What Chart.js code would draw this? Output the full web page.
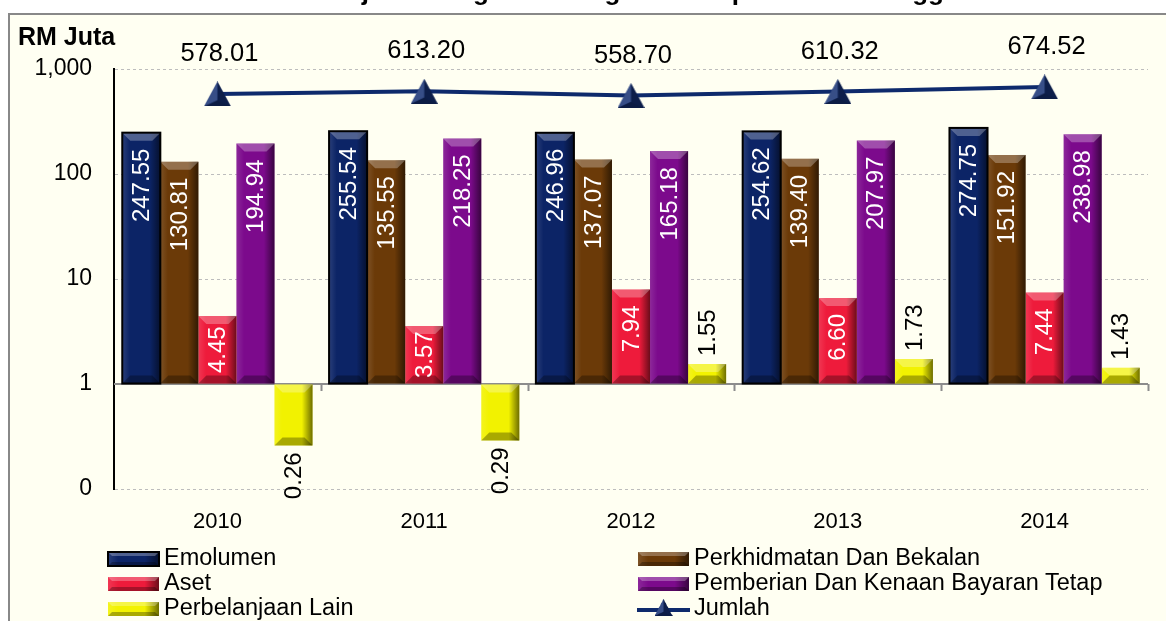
<!DOCTYPE html>
<html>
<head>
<meta charset="utf-8">
<script src="https://cdn.jsdelivr.net/npm/chart.js@4.4.1/dist/chart.umd.min.js"></script>
<style>
  html, body { margin: 0; padding: 0; background: #fff; }
  body { width: 1166px; height: 621px; overflow: hidden; position: relative; font-family: 'Liberation Sans', Arial, sans-serif; }
  #panel { position: absolute; left: 8px; top: 13px; right: 0; bottom: 0; background: #fffff2; border-left: 2px solid #888; border-top: 2px solid #888; }
  #wrap { position: absolute; left: 0; top: 0; width: 1166px; height: 621px; }
  #legend { position: absolute; left: 107px; top: 545px; display: grid; grid-template-columns: 530px 530px; grid-auto-rows: 25px; }
  .item { display: flex; align-items: center; font-size: 23.5px; color: #000; white-space: nowrap; }
  .item canvas { margin-right: 4px; }
</style>
</head>
<body>
<div id="panel"></div>
<div id="wrap"><canvas id="chart"></canvas></div>
<div id="legend"></div>
<script>
// données
var years = ['2010', '2011', '2012', '2013', '2014'];
var emolumen = [247.55, 255.54, 246.96, 254.62, 274.75];
var perkhidmatan = [130.81, 135.55, 137.07, 139.40, 151.92];
var aset = [4.45, 3.57, 7.94, 6.60, 7.44];
var pemberian = [194.94, 218.25, 165.18, 207.97, 238.98];
var perbelanjaanLain = [0.26, 0.29, 1.55, 1.73, 1.43];
var jumlah = [578.01, 613.20, 558.70, 610.32, 674.52];

var seriesNames = ['Emolumen', 'Perkhidmatan Dan Bekalan', 'Aset', 'Pemberian Dan Kenaan Bayaran Tetap', 'Perbelanjaan Lain', 'Jumlah'];
var seriesColours = ['#0c2466', '#6b3a08', '#ee1b3b', '#7c0a8c', '#f2f200', '#0e2a6c'];

var yTickValues = [0.1, 1, 10, 100, 1000];
var yTickLabels = ['0', '1', '10', '100', '1,000'];

var fam = "'Liberation Sans', Arial, sans-serif";
Chart.defaults.font.family = fam;
Chart.defaults.color = '#000';

// barre avec effet biseau
function drawBevel(ctx, x0, y0, x1, y1, edge) {
    var w = x1 - x0, h = y1 - y0;
    var g = ctx.createLinearGradient(x0, 0, x1, 0);
    g.addColorStop(0, 'rgba(255,255,255,0.12)');
    g.addColorStop(0.2, 'rgba(255,255,255,0)');
    g.addColorStop(0.72, 'rgba(0,0,0,0)');
    g.addColorStop(1, 'rgba(0,0,0,0.55)');
    ctx.fillStyle = g;
    ctx.fillRect(x0, y0, w, h);
    var b = Math.min(edge, h / 2, w / 2);
    ctx.fillStyle = 'rgba(255,255,255,0.28)';
    ctx.beginPath();
    ctx.moveTo(x0, y0); ctx.lineTo(x1, y0); ctx.lineTo(x1 - b, y0 + b); ctx.lineTo(x0 + b, y0 + b);
    ctx.closePath(); ctx.fill();
    ctx.fillStyle = 'rgba(0,0,0,0.3)';
    ctx.beginPath();
    ctx.moveTo(x0, y1); ctx.lineTo(x1, y1); ctx.lineTo(x1 - b, y1 - b); ctx.lineTo(x0 + b, y1 - b);
    ctx.closePath(); ctx.fill();
}

// marqueur triangle (centré sur le point)
function makeTriangle(w, h) {
    var c = document.createElement('canvas');
    c.width = w; c.height = h;
    var g = c.getContext('2d');
    g.fillStyle = '#142f72';
    g.beginPath(); g.moveTo(w / 2, 0); g.lineTo(w, h); g.lineTo(0, h); g.closePath(); g.fill();
    g.fillStyle = 'rgba(0,0,0,0.35)';
    g.beginPath(); g.moveTo(w / 2, 0); g.lineTo(w, h); g.lineTo(w / 2, h * 0.75); g.closePath(); g.fill();
    g.fillStyle = 'rgba(255,255,255,0.15)';
    g.beginPath(); g.moveTo(w / 2, 0); g.lineTo(w / 2, h * 0.75); g.lineTo(0, h); g.closePath(); g.fill();
    g.fillStyle = 'rgba(0,0,0,0.4)';
    g.beginPath(); g.moveTo(0, h); g.lineTo(w, h); g.lineTo(w / 2, h * 0.75); g.closePath(); g.fill();
    return c;
}
var triangle = makeTriangle(27, 25);

var bevelPlugin = {
    id: 'bevel',
    afterDatasetDraw: function(chart, args) {
        var meta = args.meta;
        if (meta.type !== 'bar') return;
        var ds = chart.data.datasets[args.index];
        var ctx = chart.ctx;
        meta.data.forEach(function(el) {
            var p = el.getProps(['x', 'y', 'base', 'width'], true);
            var x0 = p.x - p.width / 2, x1 = p.x + p.width / 2;
            var y0 = Math.min(p.y, p.base), y1 = Math.max(p.y, p.base);
            ctx.save();
            drawBevel(ctx, x0, y0, x1, y1, 8);
            if (ds.outline) {
                ctx.strokeStyle = ds.outline;
                ctx.lineWidth = 2;
                ctx.strokeRect(x0, y0, x1 - x0, y1 - y0);
            }
            ctx.restore();
        });
    }
};

// ligne de base à 1 avec graduations
var baselinePlugin = {
    id: 'baseline',
    beforeDatasetsDraw: function(chart) {
        var ctx = chart.ctx, area = chart.chartArea;
        var y = chart.scales.y.getPixelForValue(1);
        var step = (area.right - area.left) / years.length;
        ctx.save();
        ctx.strokeStyle = '#8c8c8c';
        ctx.lineWidth = 2;
        ctx.beginPath();
        ctx.moveTo(area.left, y); ctx.lineTo(area.right, y);
        for (var i = 1; i <= years.length; i++) {
            var x = Math.round(area.left + i * step) + 0.5;
            ctx.moveTo(x, y); ctx.lineTo(x, y + 7);
        }
        ctx.stroke();
        ctx.restore();
    }
};

var labelPlugin = {
    id: 'valueLabels',
    afterDatasetsDraw: function(chart) {
        var ctx = chart.ctx;
        chart.data.datasets.forEach(function(ds, i) {
            var meta = chart.getDatasetMeta(i);
            meta.data.forEach(function(el, j) {
                var v = ds.data[j];
                var txt = v.toFixed(2);
                ctx.save();
                ctx.textBaseline = 'middle';
                if (ds.type === 'line') {
                    ctx.font = '25.5px ' + fam;
                    ctx.fillStyle = '#000';
                    ctx.textAlign = 'center';
                    ctx.fillText(txt, el.x + 2, el.y - 40);
                } else {
                    ctx.font = '24px ' + fam;
                    var w = ctx.measureText(txt).width;
                    var len = Math.abs(el.base - el.y);
                    var ay;
                    if (v >= 2) {
                        ctx.fillStyle = '#fff';
                        ctx.textAlign = 'right';
                        ay = el.y + 16;
                        if (len < w + 32) ay = el.y + (len - w) / 2;
                    } else if (v >= 1) {
                        ctx.fillStyle = '#000';
                        ctx.textAlign = 'left';
                        ay = el.y - 8;
                    } else {
                        ctx.fillStyle = '#000';
                        ctx.textAlign = 'right';
                        ay = el.y + 7;
                    }
                    ctx.translate(el.x + 1, ay);
                    ctx.rotate(-Math.PI / 2);
                    ctx.fillText(txt, 0, 0);
                }
                ctx.restore();
            });
        });
    }
};

var titlePlugin = {
    id: 'titles',
    afterDraw: function(chart) {
        var ctx = chart.ctx;
        ctx.save();
        ctx.fillStyle = '#000';
        ctx.textBaseline = 'alphabetic';
        ctx.textAlign = 'left';
        ctx.font = 'bold 26px ' + fam;
        ctx.fillText('Perbelanjaan Mengurus Mengikut Kumpulan 2010 hingga 2014', 252, 0);
        ctx.font = 'bold 25px ' + fam;
        ctx.fillText('RM Juta', 18, 45);
        ctx.restore();
    }
};

var barData = [emolumen, perkhidmatan, aset, pemberian, perbelanjaanLain];
var datasets = barData.map(function(d, i) {
    return {
        type: 'bar',
        label: seriesNames[i],
        data: d,
        base: 1,
        backgroundColor: seriesColours[i],
        borderWidth: 0,
        outline: i === 0 ? '#000' : null,
        categoryPercentage: 0.92,
        barPercentage: 1.0,
        order: 1
    };
});
datasets.push({
    type: 'line',
    label: seriesNames[5],
    data: jumlah,
    borderColor: seriesColours[5],
    borderWidth: 4,
    pointStyle: triangle,
    pointRadius: 14,
    tension: 0,
    order: 0
});

var ctx = document.getElementById('chart').getContext('2d');
var chart = new Chart(ctx, {
    data: { labels: years, datasets: datasets },
    options: {
        responsive: true,
        maintainAspectRatio: false,
        animation: false,
        layout: { padding: { left: 0, top: 69, right: 9, bottom: 0 } },
        plugins: { legend: { display: false }, tooltip: { enabled: false } },
        scales: {
            x: {
                grid: { display: false },
                border: { display: false },
                ticks: { font: { size: 22 }, padding: 12, color: '#000' },
                afterFit: function(scale) { scale.height = 132; }
            },
            y: {
                type: 'logarithmic',
                min: 0.1,
                max: 1000,
                afterBuildTicks: function(scale) {
                    scale.ticks = yTickValues.map(function(v) { return { value: v }; });
                },
                afterFit: function(scale) { scale.width = 114; },
                ticks: {
                    font: { size: 23 },
                    padding: 22,
                    color: '#000',
                    callback: function(value) {
                        var k = yTickValues.indexOf(value);
                        return k >= 0 ? yTickLabels[k] : '';
                    }
                },
                grid: {
                    drawTicks: false,
                    color: function(c) { return c.tick && c.tick.value === 1 ? 'rgba(0,0,0,0)' : '#bdbdbd'; },
                    lineWidth: 1
                },
                border: { display: true, color: '#000', width: 2, dash: [3, 3] }
            }
        }
    },
    plugins: [baselinePlugin, bevelPlugin, labelPlugin, titlePlugin]
});

// légende HTML
var legend = document.getElementById('legend');
seriesNames.forEach(function(name, i) {
    var item = document.createElement('div');
    item.className = 'item';
    var c = document.createElement('canvas');
    c.width = 53; c.height = 18;
    var g = c.getContext('2d');
    if (i === 5) {
        g.strokeStyle = seriesColours[5];
        g.lineWidth = 4;
        g.beginPath(); g.moveTo(0, 11); g.lineTo(53, 11); g.stroke();
        g.drawImage(triangle, 17.5, 0, 18, 17);
    } else {
        g.fillStyle = seriesColours[i];
        g.fillRect(1, 3, 51, 14);
        drawBevel(g, 1, 3, 52, 17, 4);
        if (i === 0) { g.strokeStyle = '#000'; g.lineWidth = 2; g.strokeRect(1, 3, 51, 14); }
    }
    item.appendChild(c);
    var s = document.createElement('span');
    s.textContent = name;
    item.appendChild(s);
    legend.appendChild(item);
});
</script>
</body>
</html>
